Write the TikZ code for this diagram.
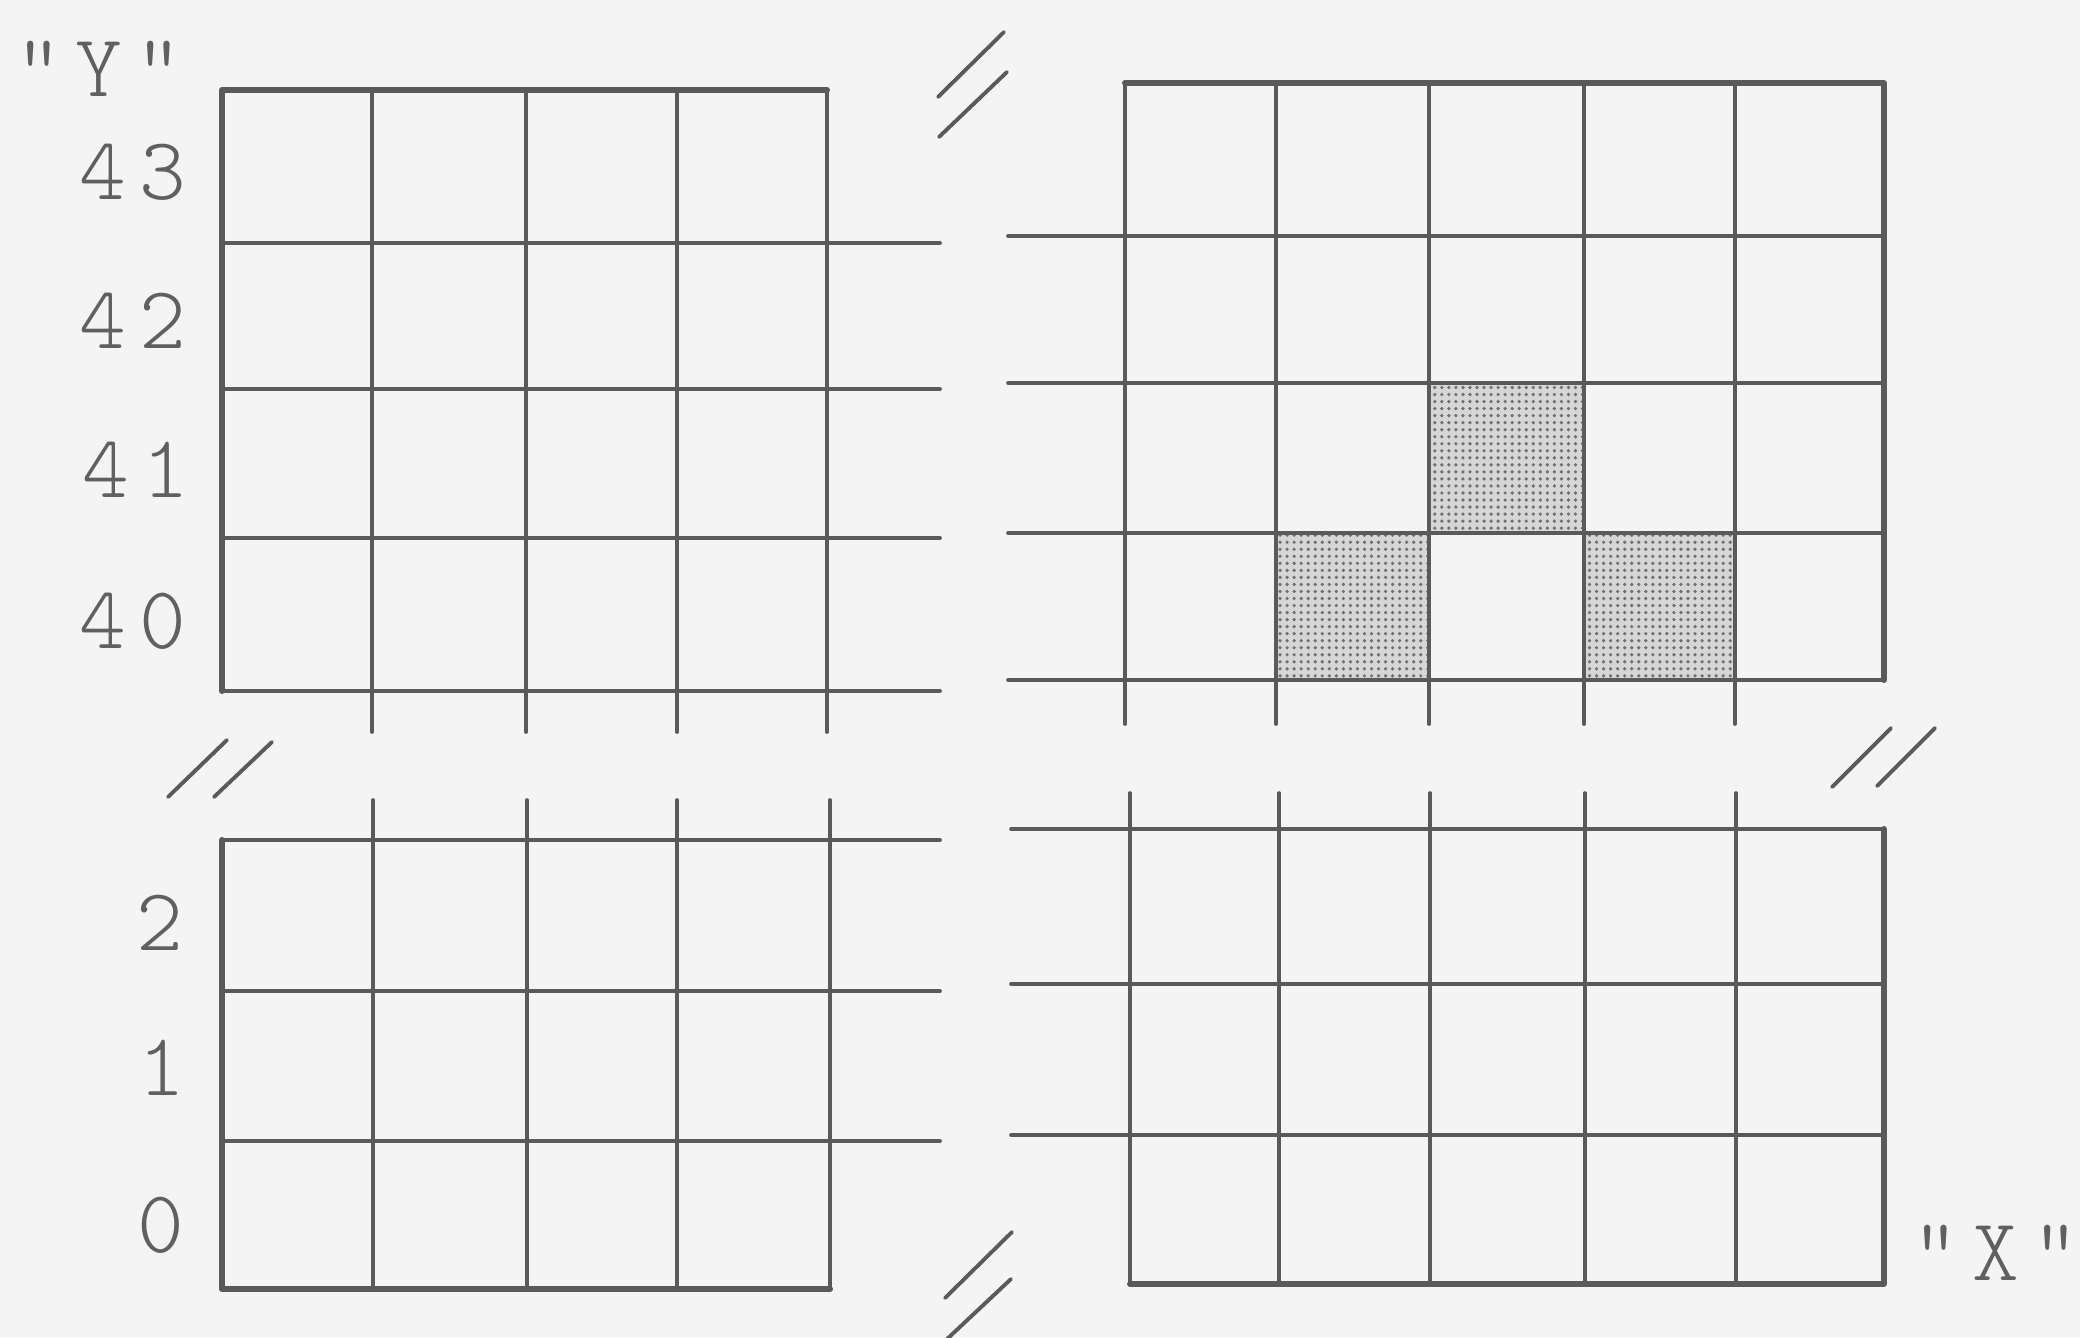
\documentclass[tikz,border=0pt]{standalone}
\usepackage{fontspec}
\newfontfamily\tw[LetterSpace=15]{lmmonolt10-regular.otf}
\usetikzlibrary{patterns.meta}
\definecolor{bg}{HTML}{F4F4F4}
\definecolor{ink}{HTML}{5A5A5A}
\definecolor{txt}{HTML}{606060}
\definecolor{shade}{HTML}{D6D6D6}
\definecolor{dotc}{HTML}{707070}
\begin{document}
\begin{tikzpicture}[x=0.01cm,y=-0.01cm,
  gridline/.style={draw=ink,line width=1.05pt,line cap=round},
  frameline/.style={draw=ink,line width=1.7pt,line join=round,line cap=round},
  brk/.style={draw=ink,line width=1.1pt,line cap=round},
  lab/.style={text=txt,font=\tw\fontsize{25.3}{26}\selectfont,anchor=base,inner sep=0pt},
  shaded/.style={fill=shade},
  dotted cell/.style={pattern={Dots[radius=0.52pt,distance=2pt]},pattern color=dotc}]
\fill[bg] (0,0) rectangle (2080,1337);
\useasboundingbox (0,0) rectangle (2080,1337);

% ---------- shaded cells (top right) ----------
\foreach \a/\b/\c/\d in {1429/383/1584/533, 1276/533/1429/680, 1584/533/1735/680}{
  \fill[shaded] (\a,\b) rectangle (\c,\d);
  \fill[dotted cell] (\a,\b) rectangle (\c,\d);
}

% ---------- top left grid ----------
\foreach \x in {372,526,677,827} \draw[gridline] (\x,90) -- (\x,732);
\foreach \y in {243,389,538,691} \draw[gridline] (222,\y) -- (940,\y);
\draw[frameline] (827,90) -- (222,90) -- (222,691);

% ---------- top right grid ----------
\foreach \x in {1125,1276,1429,1584,1735} \draw[gridline] (\x,83) -- (\x,724);
\foreach \y in {236,383,533,680} \draw[gridline] (1008,\y) -- (1884,\y);
\draw[frameline] (1125,83) -- (1884,83) -- (1884,680);

% ---------- bottom left grid ----------
\foreach \x in {373,527,677,830} \draw[gridline] (\x,800) -- (\x,1289);
\foreach \y in {840,991,1141} \draw[gridline] (222,\y) -- (940,\y);
\draw[frameline] (222,840) -- (222,1289) -- (830,1289);

% ---------- bottom right grid ----------
\foreach \x in {1130,1279,1430,1585,1736} \draw[gridline] (\x,793) -- (\x,1284);
\foreach \y in {829,984,1135} \draw[gridline] (1011,\y) -- (1884,\y);
\draw[frameline] (1130,1284) -- (1884,1284) -- (1884,829);

% ---------- break marks ----------
\draw[brk] (938,97) -- (1004,32);
\draw[brk] (939,137) -- (1007,72);
\draw[brk] (168,797) -- (227,740);
\draw[brk] (214,797) -- (272,742);
\draw[brk] (1832,787) -- (1891,728);
\draw[brk] (1877,786) -- (1935,728);
\draw[brk] (945,1298) -- (1012,1232);
\draw[brk] (946,1340) -- (1011,1279);

% ---------- labels ----------
\node[lab] (ylab) at (99,97) {"Y"};
\node[lab] (y43) at (133,200) {43};
\node[lab] (y42) at (133,349) {42};
\node[lab] (y41) at (136,498) {41};
\node[lab] (y40) at (133,648) {40};
\node[lab] (y2) at (160,950) {2};
\node[lab] (y1) at (162,1095) {1};
\node[lab] (y0) at (161,1252) {0};
\node[lab] (xlab) at (1996,1280) {"X"};
\end{tikzpicture}
\end{document}
